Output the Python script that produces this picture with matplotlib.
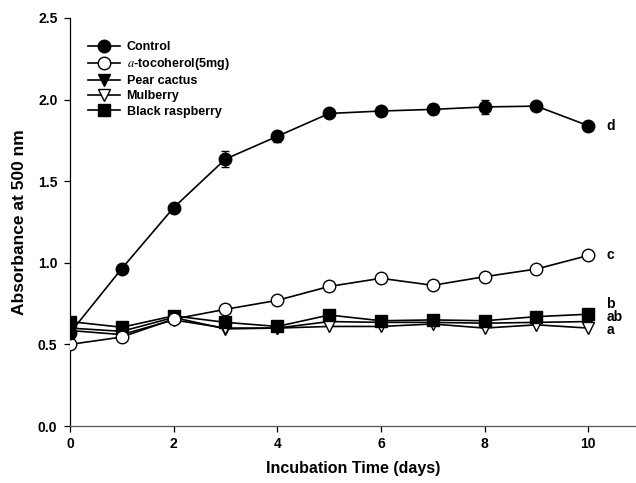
import matplotlib
matplotlib.use("Agg")
import matplotlib.pyplot as plt
from matplotlib.lines import Line2D

days = [0, 1, 2, 3, 4, 5, 6, 7, 8, 9, 10]
control = [0.57, 0.965, 1.338, 1.636, 1.775, 1.915, 1.93, 1.94, 1.955, 1.96, 1.84]
control_err = [0.0, 0.015, 0.015, 0.05, 0.035, 0.015, 0.02, 0.03, 0.045, 0.02, 0.015]
tocopherol = [0.50, 0.545, 0.655, 0.715, 0.77, 0.855, 0.905, 0.862, 0.915, 0.962, 1.045]
pear_cactus = [0.60, 0.58, 0.665, 0.595, 0.60, 0.64, 0.635, 0.635, 0.63, 0.635, 0.64]
mulberry = [0.585, 0.56, 0.65, 0.60, 0.60, 0.61, 0.61, 0.625, 0.60, 0.62, 0.60]
black_raspberry = [0.64, 0.605, 0.675, 0.635, 0.61, 0.68, 0.645, 0.65, 0.645, 0.67, 0.685]
group_letters = ["d", "c", "b", "ab", "a"]
letter_y = [1.84, 1.045, 0.75, 0.67, 0.59]

plt.rcParams['font.family'] = ['Liberation Sans', 'DejaVu Sans']
plt.rcParams['mathtext.fontset'] = 'stix'

fig = plt.figure(figsize=(6.36, 4.83), dpi=100)
ax = fig.add_axes([70/636, 57/483, 566/636, 408/483])

ms = 9
lw = 1.2
ax.errorbar(days, control, yerr=control_err, color='black', marker='o', ms=ms,
            mfc='black', mec='black', lw=lw, capsize=3, elinewidth=1, zorder=5)
h1 = Line2D([], [], color='black', marker='o', ms=ms, mfc='black', mec='black',
            lw=lw, label='Control')
h2, = ax.plot(days, tocopherol, color='black', marker='o', ms=ms, mfc='white', mec='black',
              lw=lw, label=r'$a$-tocoherol(5mg)', zorder=4)
h3, = ax.plot(days, pear_cactus, color='black', marker='v', ms=ms, mfc='black', mec='black',
              lw=lw, label='Pear cactus', zorder=3)
h4, = ax.plot(days, mulberry, color='black', marker='v', ms=ms, mfc='white', mec='black',
              lw=lw, label='Mulberry', zorder=3)
h5, = ax.plot(days, black_raspberry, color='black', marker='s', ms=8.5, mfc='black', mec='black',
              lw=lw, label='Black raspberry', zorder=3)

for lab, yv in zip(group_letters, letter_y):
    ax.text(10.35, yv, lab, fontsize=10, fontweight='bold', ha='left', va='center')

ax.set_xlim(0, 10.92)
ax.set_ylim(0, 2.5)
ax.set_xticks([0, 2, 4, 6, 8, 10])
ax.set_yticks([0.0, 0.5, 1.0, 1.5, 2.0, 2.5])
ax.set_yticklabels(['0.0', '0.5', '1.0', '1.5', '2.0', '2.5'])
for s in ['top', 'right']:
    ax.spines[s].set_visible(False)
ax.spines['left'].set_linewidth(0.9)
ax.spines['bottom'].set_linewidth(0.9)
ax.spines['bottom'].set_color('#555555')
ax.tick_params(direction='out', length=4, width=0.9, labelsize=10)
ax.tick_params(axis='x', pad=4)
ax.tick_params(axis='y', pad=5)
for t in ax.get_xticklabels() + ax.get_yticklabels():
    t.set_fontweight('bold')

ax.set_xlabel('Incubation Time (days)', fontsize=11.5, fontweight='bold', labelpad=7)
ax.set_ylabel('Absorbance at 500 nm', fontsize=12.5, fontweight='bold', labelpad=8)

leg = ax.legend(handles=[h1, h2, h3, h4, h5], loc='upper left',
                bbox_to_anchor=(0.016, 0.965), frameon=False,
                prop={'weight': 'bold', 'size': 9}, handlelength=2.6,
                handletextpad=0.5, labelspacing=0.25, borderaxespad=0.3)

fig.savefig('out.png', dpi=100)
